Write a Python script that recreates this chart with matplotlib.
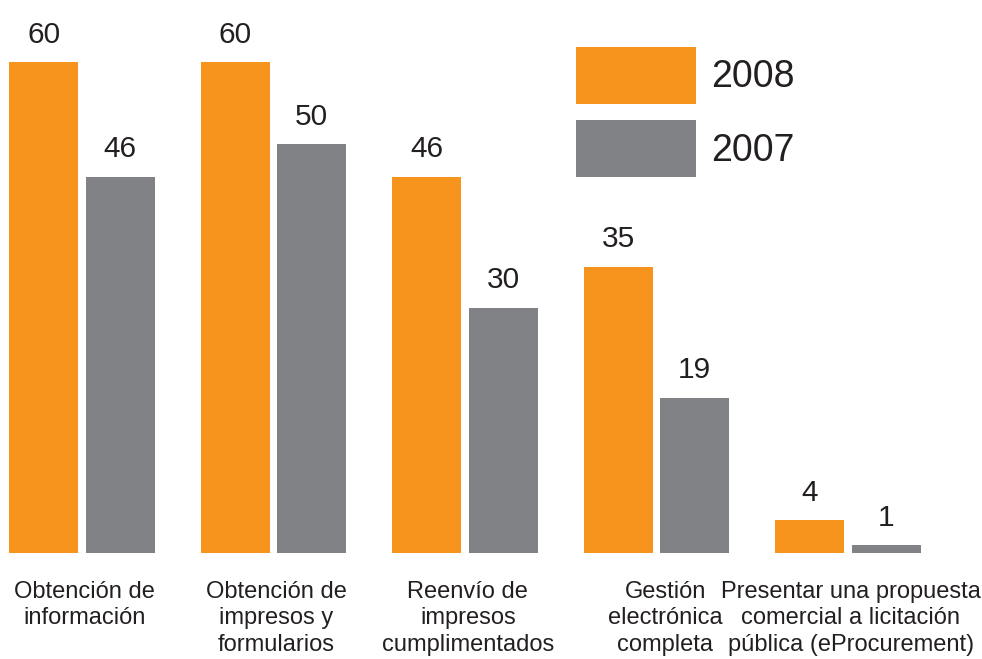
import numpy as np
import matplotlib.transforms as mtransforms
from matplotlib import pyplot as plt

#: Category labels along the bottom.
CATEGORIES = [
    "Obtención de\ninformación",
    "Obtención de\nimpresos y\nformularios",
    "Reenvío de\nimpresos\ncumplimentados",
    "Gestión\nelectrónica\ncompleta",
    "Presentar una propuesta\ncomercial a licitación\npública (eProcurement)",
]

#: Series values.
VALUES_2008 = [60, 60, 46, 35, 4]
VALUES_2007 = [46, 50, 30, 19, 1]

ORANGE = "#F7941D"
GRAY = "#808285"
TEXT = "#231F20"

plt.rcParams["font.family"] = ["Liberation Sans", "DejaVu Sans"]

W, H, DPI = 982, 659, 100
fig = plt.figure(figsize=(W / DPI, H / DPI), dpi=DPI)

# group spacing 191.5 px, first group centre at 82 px, baseline at 553 px
step = 191.5
x0 = -82 / step
x1 = (W - 82) / step
ymax = 65
px_per_unit = 491 / 60
ax_h = ymax * px_per_unit
ax = fig.add_axes([0, (H - 553) / H, 1, ax_h / H])

x = np.arange(len(CATEGORIES))
width = 69 / step
off = 38.3 / step

b1 = ax.bar(x - off, VALUES_2008, width, color=ORANGE, label="2008")
b2 = ax.bar(x + off, VALUES_2007, width, color=GRAY, label="2007")

for bars in (b1, b2):
    ax.bar_label(bars, padding=9.5, fontsize=21.5, color=TEXT)

ax.set_xlim(x0, x1)
ax.set_ylim(0, ymax)
ax.set_xticks(x + 0.015)
ax.set_xticklabels(CATEGORIES, fontsize=17, linespacing=1.27, color=TEXT)
ax.tick_params(axis="x", length=0, pad=20)
ax.set_yticks([])
for s in ax.spines.values():
    s.set_visible(False)

# "Gestión electrónica completa" sits a bit right of its group centre
lbl = ax.get_xticklabels()[3]
lbl.set_transform(lbl.get_transform() + mtransforms.ScaledTranslation(0.06, 0, fig.dpi_scale_trans))

ax.legend(
    loc="upper left",
    bbox_to_anchor=(576 / W, 1 - 47 / H),
    bbox_transform=fig.transFigure,
    frameon=False,
    fontsize=27,
    handlelength=3.2,
    handleheight=1.96,
    handletextpad=0.4,
    labelspacing=0.43,
    borderpad=0,
    borderaxespad=0,
    labelcolor=TEXT,
)

fig.savefig("out.png", dpi=DPI)
